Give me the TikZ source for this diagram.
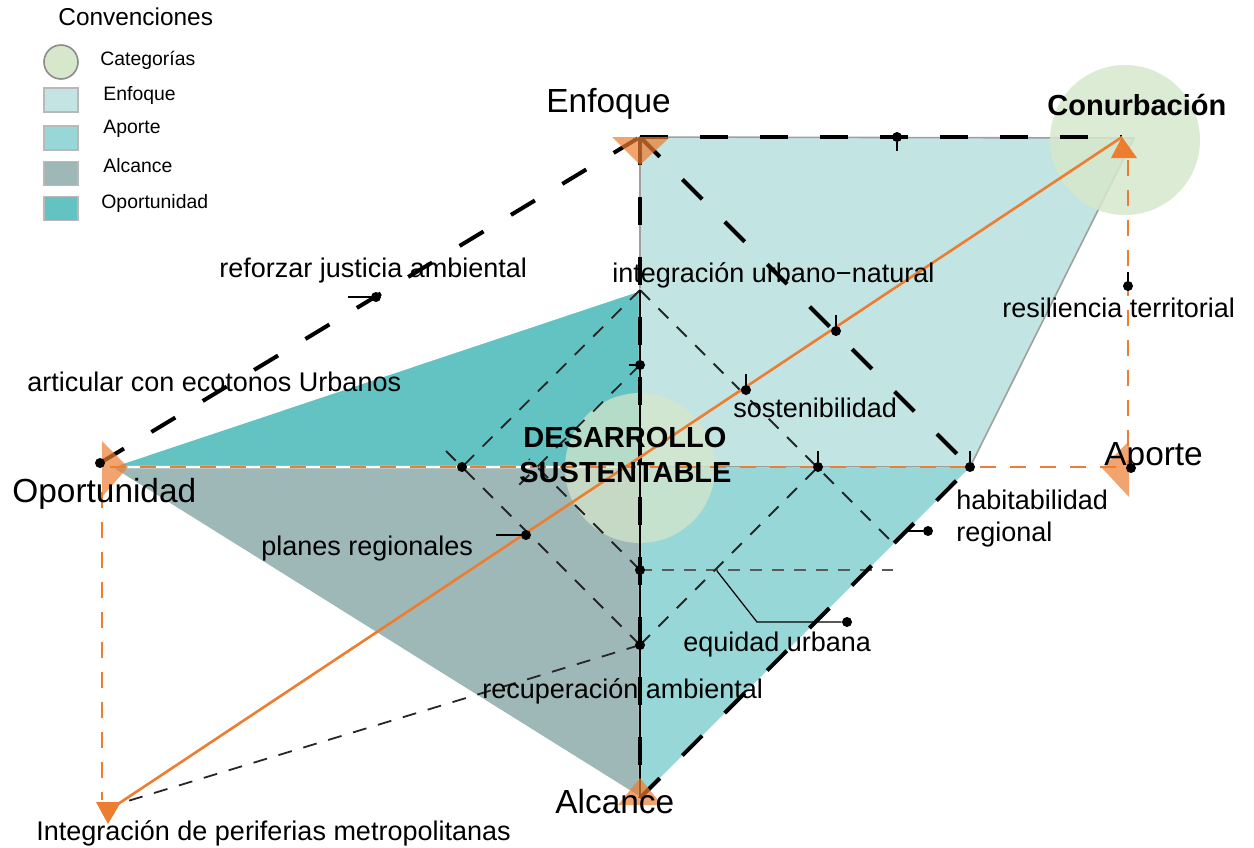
\documentclass[tikz,border=0pt]{standalone}
\usepackage{fontspec}
\setmainfont{Liberation Sans}
\usepackage{xcolor}
\usetikzlibrary{positioning}

\definecolor{naranja}{HTML}{ED7D31}
\definecolor{enfoquec}{HTML}{C2E4E2}
\definecolor{aportec}{HTML}{98D7D7}
\definecolor{alcancec}{HTML}{9EB8B8}
\definecolor{oportc}{HTML}{63C3C3}
\definecolor{categc}{HTML}{D6E7CB}

\begin{document}
\begin{tikzpicture}[x=0.5pt, y=-0.5pt,
        every node/.style={inner sep=0pt},
        axis/.style={font=\fontsize{16.7}{20}\selectfont, anchor=base west},
        lbl/.style={font=\fontsize{13.5}{16}\selectfont, anchor=base west},
        core/.style={font=\fontsize{14.5}{17}\selectfont\bfseries, anchor=base west},
        legtxt/.style={font=\fontsize{9.7}{12}\selectfont, anchor=base west},
        legsq/.style={draw=gray!55, line width=0.8pt, minimum width=17pt, minimum height=12pt},
        dot/.style={circle, fill=black, minimum size=5pt},
        heavy/.style={line width=2pt, dash pattern=on 14pt off 16pt},
        fine/.style={line width=0.9pt, black!85, dash pattern=on 7pt off 6pt},
        odash/.style={draw=naranja, line width=1pt, dash pattern=on 8pt off 7pt},
        axisline/.style={draw=naranja, line width=1.3pt},
        vmark/.style={fill=naranja, fill opacity=0.7},
        tic/.style={line width=0.6pt}
    ]
    \useasboundingbox (0,0) rectangle (1254,847);

    % Vertices
    \coordinate (opor) at (110,467);
    \coordinate (enf) at (640,137);
    \coordinate (conuR) at (1134,138);
    \coordinate (conu) at (1122,137);
    \coordinate (apor) at (1128,467);
    \coordinate (hab) at (970,467);
    \coordinate (mid) at (640,467);
    \coordinate (alc) at (640,798);
    \coordinate (topv) at (640,290);
    \coordinate (integ) at (118,804);

    % Areas
    \fill[enfoquec, draw=gray!75, line width=0.8pt] (enf) -- (conuR) -- (hab) -- (mid) -- cycle;
    \fill[aportec] (mid) -- (hab) -- (alc) -- cycle;
    \filldraw[fill=alcancec, draw=white, line width=1.2pt] (opor) -- (mid) -- (alc) -- cycle;
    \filldraw[fill=oportc, draw=white, line width=1.2pt] (opor) -- (topv) -- (mid) -- cycle;

    % Categories
    \fill[categc, opacity=0.72] (640,468) circle (75);
    \fill[categc, opacity=0.85] (1125,140) circle (75);

    % Guides
    \draw[odash] (opor) -- (apor);
    \draw[odash] (1128,160) -- (apor);
    \draw[odash] (102,492) -- (102,800);

    % Inner links
    \coordinate (dL) at (462,467);
    \coordinate (dB) at (640,645);
    \coordinate (dR) at (818,467);
    \coordinate (iT) at (640,365);
    \coordinate (iL) at (537,467);
    \coordinate (iB) at (640,570);
    \coordinate (hbEnd) at (897,547);
    \draw[line width=0.8pt, gray!70!black, dash pattern=on 6pt off 5pt] (iB) -- (893,570);
    \draw[fine] (topv) -- (dL) -- ++(-16,-16);
    \draw[fine] (dB) -- (dL);
    \draw[fine] (dB) -- (dR);
    \draw[fine] (topv) -- (hbEnd);
    \draw[fine] (iT) -- (iL) -- ++(-18,18);
    \draw[fine] (iB) -- (iL) -- ++(-8,-8);
    \draw[fine] (dB) -- (integ);
    \draw[line width=1.1pt] (topv) -- (alc);

    % Main axes
    \draw[heavy] (100,463) -- (enf);
    \draw[heavy] (enf) -- (conu);
    \draw[heavy] (enf) -- (alc);
    \draw[heavy] (enf) -- (hab);
    \draw[heavy] (alc) -- (hab);

    % Orange axis
    \draw[axisline] (integ) -- (conu);
    \fill[naranja] (conu) -- (1111,158) -- (1137,158) -- cycle;
    \fill[naranja] (96,802) -- (121,802) -- (108,824) -- cycle;

    % Vertex marks
    \fill[vmark] (612,137) -- (670,137) -- (640,165) -- cycle;
    \fill[vmark] (102,441) -- (102,497) -- (128,467) -- cycle;
    \fill[vmark] (618,805) -- (662,805) -- (640,778) -- cycle;
    \fill[vmark] (1129,441) -- (1129,497) -- (1102,468) -- cycle;

    % Dots
    \node[dot] (dOpor) at (100,463) {};
    \node[dot] (dApor) at (1131,468) {};
    \node[dot] (dTop) at (897,137) {};
    \node[dot] (dResil) at (1128,286) {};
    \node[dot] (dCross) at (836,331) {};
    \node[dot] (dSost) at (746,390) {};
    \node[dot] (dRight) at (dR) {};
    \node[dot] (dHab) at (hab) {};
    \node[dot] (dLeft) at (dL) {};
    \node[dot] (dPlanes) at (526,535) {};
    \node[dot] (dJust) at (376,297) {};
    \node[dot] (dInt) at (iT) {};
    \node[dot] (dEq) at (iB) {};
    \node[dot] (dRec) at (dB) {};
    \node[dot] (dHabReg) at (928,531) {};
    \node[dot] (dEqu) at (847,622) {};

    % Ticks
    \draw[tic] (dTop) -- ++(0,14);
    \draw[tic] (dResil) -- ++(0,-14);
    \draw[tic] (dCross) -- ++(0,-16);
    \draw[tic] (dSost) -- ++(0,-16);
    \draw[tic] (dRight) -- ++(0,-16);
    \draw[tic] (dHab) -- ++(0,-16);
    \draw[tic] (dPlanes) -- ++(-30,0);
    \draw[tic] (dJust) -- ++(-28,0);
    \draw[tic] (dInt) -- ++(-11,0);
    \draw[tic] (dHabReg) -- ++(-22,0);
    \coordinate (eqA) at (717,571);
    \draw[tic] (eqA) -- ++(40,51) -- (dEqu);

    % Labels
    \node[axis] (tEnf) at (546,112) {Enfoque};
    \node[axis] (tOpor) at (12,502) {Oportunidad};
    \node[axis] (tAlc) at (555,813) {Alcance};
    \node[axis] (tApor) at (1104,465) {Aporte};
    \node[core] (tConu) at (1047,115) {Conurbación};
    \node[core] (tDes) at (523,447) {DESARROLLO};
    \node[core] (tSus) at (519,482) {SUSTENTABLE};
    \node[lbl] (tUrb) at (612,282) {integración urbano−natural};
    \node[lbl] (tJust) at (219,277) {reforzar justicia ambiental};
    \node[lbl] (tEco) at (27,391) {articular con ecotonos Urbanos};
    \node[lbl] (tResil) at (1002,317) {resiliencia territorial};
    \node[lbl] (tSost) at (733,417) {sostenibilidad};
    \node[lbl] (tHab) at (956,509) {habitabilidad};
    \node[lbl] (tReg) at (956,541) {regional};
    \node[lbl] (tPlan) at (261,555) {planes regionales};
    \node[lbl] (tEqu) at (683,651) {equidad urbana};
    \node[lbl] (tRec) at (482,698) {recuperación ambiental};
    \node[lbl] (tPer) at (36,840) {Integración de periferias metropolitanas};

    % Legend
    \node[legtxt, font=\fontsize{12.2}{14}\selectfont] (lTitle) at (58,25) {Convenciones};
    \node[circle, draw=gray!90, line width=0.8pt, fill=categc, minimum size=17pt] (lCat) at (61,62) {};
    \node[legsq, fill=enfoquec] (lEnf) at (61,100) {};
    \node[legsq, fill=aportec] (lApor) at (61,138) {};
    \node[legsq, fill=alcancec] (lAlc) at (61,173.5) {};
    \node[legsq, fill=oportc] (lOpor) at (61,208.5) {};
    \node[legtxt] (lCatT) at (100,65) {Categorías};
    \node[legtxt] (lEnfT) at (103,100) {Enfoque};
    \node[legtxt] (lAporT) at (103,133) {Aporte};
    \node[legtxt] (lAlcT) at (103,172) {Alcance};
    \node[legtxt] (lOporT) at (101,208) {Oportunidad};

\end{tikzpicture}
\end{document}
